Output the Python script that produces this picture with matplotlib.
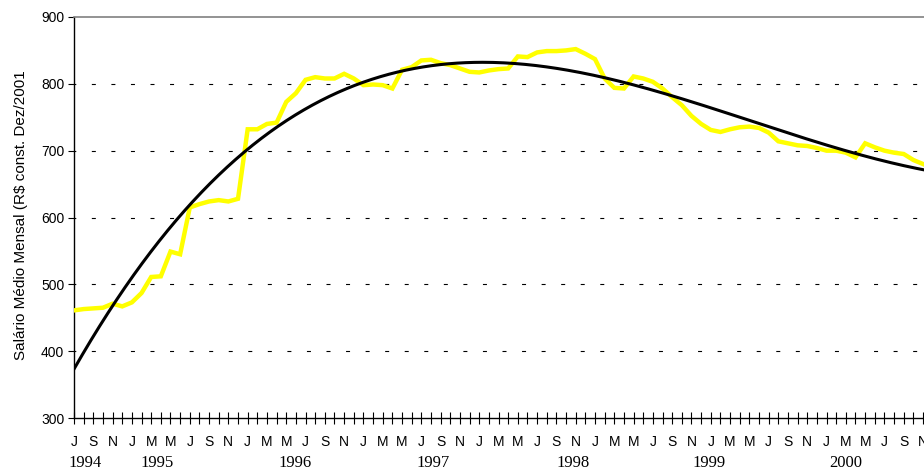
import numpy as np
import matplotlib
matplotlib.use("Agg")
import matplotlib.pyplot as plt
import matplotlib.transforms as mtransforms

# -----------------------------
# DATA
# -----------------------------
# monthly average wage, Jul/1994 onwards (R$ const. Dez/2001)
salario = [461, 463, 464, 465, 471, 467, 473, 487, 511, 512,
           549, 545, 615, 620, 624, 626, 624, 628, 732, 732,
           740, 742, 773, 786, 806, 810, 808, 808, 815, 808,
           798, 799, 798, 793, 821, 825, 835, 836, 831, 828,
           823, 818, 817, 820, 822, 823, 841, 840, 847, 849,
           849, 850, 852, 845, 837, 808, 794, 793, 811, 808,
           803, 793, 780, 768, 752, 740, 731, 728, 732, 735,
           736, 734, 727, 714, 711, 708, 707, 704, 700, 700,
           697, 690, 711, 705, 700, 697, 695, 686, 680]

meses = ['J', 'F', 'M', 'A', 'M', 'J', 'J', 'A', 'S', 'O', 'N', 'D']
primeiro_mes = 6  # July
anos = ['1994', '1995', '1996', '1997', '1998', '1999', '2000']

ylabel = 'Salário Médio Mensal (R$ const. Dez/2001'

# -----------------------------
# TREND (3rd order polynomial)
# -----------------------------
x = np.arange(len(salario))
coef = np.polyfit(x, salario, 3)
xs = np.linspace(0, len(salario) - 1, 400)
trend = np.polyval(coef, xs)

# -----------------------------
# PLOT
# -----------------------------
fig = plt.figure(figsize=(9.24, 4.70), dpi=100)
ax = fig.add_axes([74 / 924, 1 - 418 / 470, 1 - 74 / 924, (418 - 17) / 470])

ax.plot(x, salario, color='#FFFF00', lw=3.2, solid_joinstyle='miter', zorder=3)
ax.plot(xs, trend, color='black', lw=2.2, zorder=4)

ax.set_xlim(0, len(salario) - 1 + 0.1)
ax.set_ylim(300, 900)
ax.set_yticks(range(300, 901, 100))

for v in range(400, 900, 100):
    ax.axhline(v, color='black', lw=0.8, linestyle=(2, (3.6, 14)), zorder=1)

ax.set_xticks(x, minor=True)
lab_pos = x[::2]
ax.set_xticks(lab_pos)
ax.set_xticklabels([meses[(primeiro_mes + i) % 12] for i in lab_pos])
ax.tick_params(axis='x', which='both', direction='inout', length=9, width=0.8,
               color='black', pad=8, labelsize=10)
ax.tick_params(axis='y', direction='out', length=4, width=0.8, labelsize=10, pad=3)
for lab in ax.get_xticklabels() + ax.get_yticklabels():
    lab.set_fontfamily('Liberation Sans')

ax.spines['right'].set_visible(False)
ax.spines['top'].set_color('#808080')
ax.spines['top'].set_linewidth(1.2)
ax.spines['left'].set_linewidth(1.0)
ax.spines['bottom'].set_linewidth(1.0)

# year labels under the month letters
ano_x = [1.15, 8.6, 22.9, 37.2, 51.7, 65.8, 80.0]
tr = mtransforms.blended_transform_factory(ax.transData, fig.transFigure)
for a, xp in zip(anos, ano_x):
    ax.text(xp, 1 - 463 / 470, a, transform=tr, ha='center', va='center',
            fontsize=12, family='Liberation Serif', clip_on=False)

fig.text(21 / 924, 1 - 215 / 470, ylabel, rotation=90, ha='center', va='center',
         fontsize=11, family='Liberation Sans')

fig.savefig('out.png', dpi=100)
